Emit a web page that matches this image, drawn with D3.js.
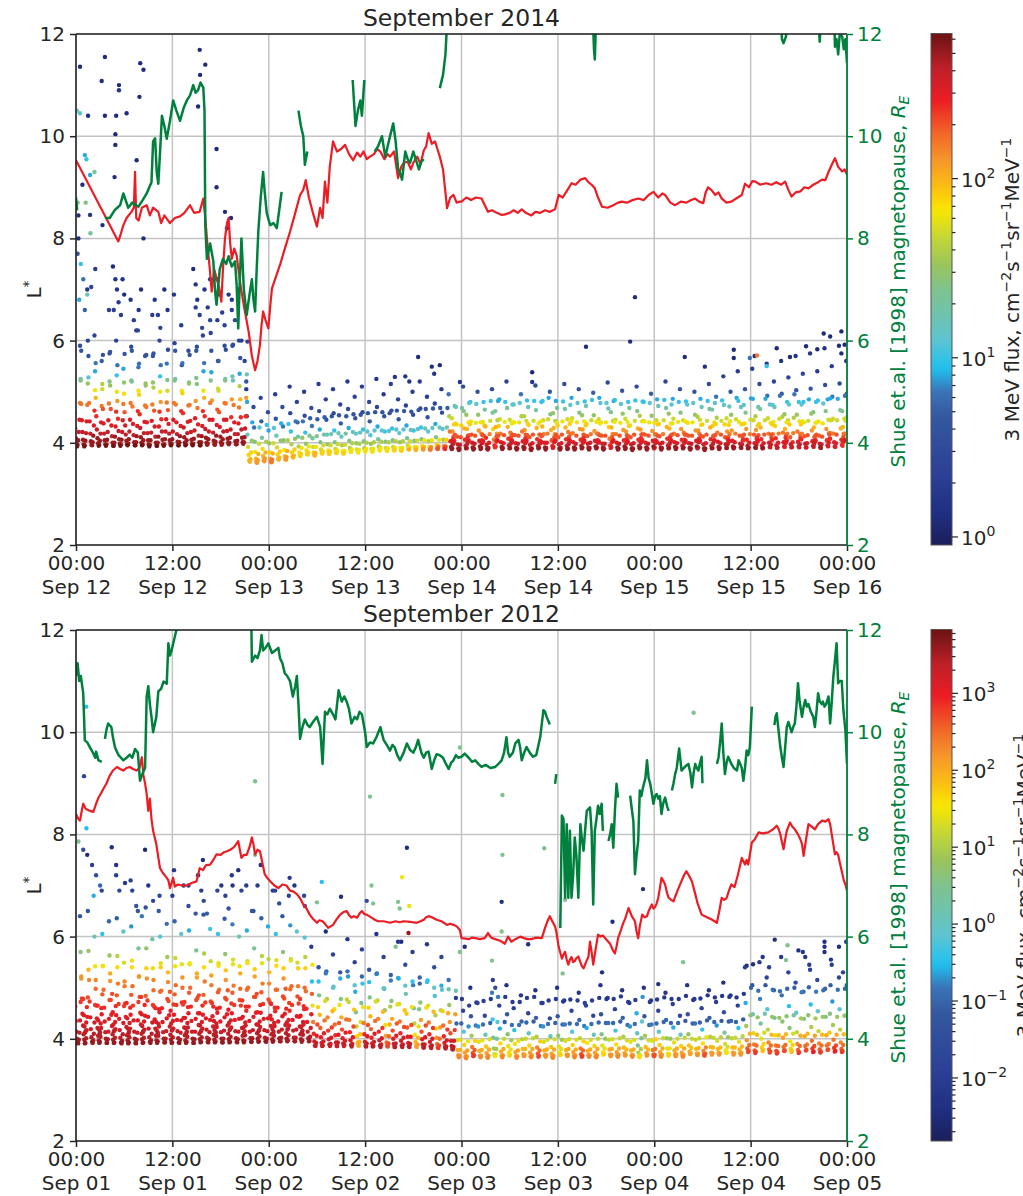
<!DOCTYPE html>
<html>
<head>
<meta charset="utf-8">
<script src="https://cdn.jsdelivr.net/npm/d3@7"></script>
<style>
  body { margin: 0; background: #fff; }
  text { font-family: "DejaVu Sans", sans-serif; }
</style>
</head>
<body>
<svg id="chart" width="1023" height="1196"></svg>
<script>
// ---------------------------------------------------------------------------
// Data
// Each pass: [start hour, L* samples x100, log10 flux samples x10], samples every SAMPLE_STEP hours.
// Spots: [hour, L* x100, log10 flux x10].  Lines: [hour, value] pairs, null = data gap.
// ---------------------------------------------------------------------------
const SAMPLE_STEP = 0.075;
const timeTicksHours = [0, 12, 24, 36, 48, 60, 72, 84, 96];
const lstarTicks = [2, 4, 6, 8, 10, 12];

const passes2014 = [
  [-0.4,[640,560,500,458,428,409,398,393,396,405,421,445,478,522,580],[3,6,18,24,26,27,27,28,27,27,26,25,22,14,6]],
  [0.5,[590,525,476,444,421,406,397,393,395,404,419,442,474,516,570],[5,12,22,25,26,27,27,28,27,27,26,25,22,15,6]],
  [1.4,[700,600,528,478,442,418,403,396,395,401,414,434,463,503,556],[2,4,11,22,25,26,27,27,27,27,27,25,24,18,8]],
  [2.3,[610,540,488,452,426,409,399,394,396,404,418,440,472,515,572],[4,9,20,24,26,27,27,28,27,27,26,25,22,16,6]],
  [3.2,[560,505,466,438,418,405,397,394,397,406,421,444,477,520,578],[7,17,23,25,26,27,27,28,27,27,26,25,22,14,6]],
  [4.1,[660,575,512,466,434,413,400,394,394,400,412,432,461,500,552],[3,6,15,23,25,26,27,28,28,27,27,25,24,18,8]],
  [5.0,[600,532,482,447,423,407,398,394,397,406,421,444,476,518,574],[4,10,21,24,26,27,27,28,27,27,26,25,22,15,6]],
  [5.9,[545,496,460,434,416,404,397,395,398,407,422,445,478,522,580],[9,18,23,25,26,27,27,28,27,27,26,25,22,14,6]],
  [6.8,[680,588,520,471,437,415,401,395,395,401,413,433,462,502,555],[2,5,13,22,25,26,27,28,28,27,27,25,24,18,8]],
  [7.7,[620,548,494,456,429,411,400,395,397,405,419,441,473,516,572],[4,8,19,24,26,27,27,28,27,27,26,25,22,15,6]],
  [8.6,[570,512,470,440,419,405,397,393,396,405,420,443,475,518,575],[6,15,22,25,26,27,27,28,27,27,26,25,22,15,6]],
  [9.5,[650,570,508,463,432,412,400,394,394,400,412,432,461,500,552],[3,6,16,23,25,26,27,28,28,27,27,25,24,18,8]],
  [10.4,[600,530,480,446,422,406,397,394,397,407,422,446,479,523,582],[4,10,21,24,26,27,27,28,27,27,26,25,22,14,5]],
  [11.3,[555,502,464,437,418,405,398,395,398,407,422,445,478,522,580],[8,17,23,25,26,27,27,28,27,27,26,25,22,14,6]],
  [12.2,[690,595,525,475,440,417,402,395,395,401,413,433,462,502,556],[2,4,12,22,25,26,27,28,28,27,27,25,24,18,8]],
  [13.1,[630,552,497,458,430,411,400,395,397,405,419,441,473,516,572],[3,7,19,24,26,27,27,28,27,27,26,25,22,15,6]],
  [14.0,[580,518,474,443,421,406,398,395,398,408,424,448,482,527,588],[5,13,22,25,26,27,27,28,27,27,26,25,21,14,5]],
  [14.9,[665,580,515,468,436,414,401,395,395,401,413,433,462,502,556],[3,6,14,22,25,26,27,28,28,27,27,25,24,18,8]],
  [15.8,[610,540,488,452,427,410,400,396,398,407,422,445,478,522,580],[4,9,20,24,26,27,27,27,27,27,26,25,22,14,6]],
  [16.7,[720,615,538,483,445,420,404,397,396,402,414,435,465,506,560],[2,4,9,21,25,26,27,27,27,27,27,25,23,17,7]],
  [17.6,[640,560,502,460,431,412,401,396,398,407,422,445,478,522,582],[3,6,17,23,25,27,27,27,27,27,26,25,22,14,5]],
  [18.5,[590,525,477,445,423,408,400,397,400,410,426,450,485,530,592],[5,12,22,25,26,27,27,27,27,27,26,24,21,12,5]],
  [19.4,[680,590,522,474,440,417,403,397,397,404,417,438,469,511,566],[2,5,12,22,25,26,27,27,27,27,26,25,22,16,6]],
  [20.3,[600,535,485,450,426,410,401,398,401,411,428,452,488,534,598],[4,9,20,24,26,27,27,27,27,27,26,24,21,12,4]],
  [21.2,[505,452,416,392,376,366,363,368,381,404,440],[3,6,12,17,19,20,20,20,19,15,9]],
  [22.1,[470,430,402,382,369,362,361,366,378,398,430],[5,8,14,18,20,21,21,21,20,17,11]],
  [23.0,[488,442,410,388,374,366,364,369,381,402,435],[4,7,13,18,20,21,21,21,20,16,10]],
  [23.9,[460,424,399,381,369,363,362,367,379,399,429],[5,9,15,19,21,22,22,22,20,17,11]],
  [24.8,[495,447,414,391,377,369,367,371,383,404,438],[3,6,12,17,19,20,20,20,19,15,9]],
  [25.7,[470,432,405,386,374,368,367,372,384,405,437],[5,8,14,18,20,21,21,21,20,16,10]],
  [26.6,[510,458,422,397,381,373,371,375,387,408,442],[3,5,10,16,19,20,20,20,19,15,8]],
  [27.5,[480,440,412,393,381,375,374,378,390,410,442],[4,7,12,16,18,19,19,19,18,15,8]],
  [28.4,[500,453,420,398,385,378,377,381,393,414,448],[3,5,10,15,18,19,19,19,18,14,7]],
  [29.3,[468,433,409,392,381,376,375,380,392,413,446],[5,8,13,17,19,20,20,20,18,14,7]],
  [30.2,[515,462,426,401,387,380,379,383,395,416,450],[3,5,9,14,17,19,19,19,17,13,7]],
  [31.1,[485,445,416,397,385,379,378,383,395,417,452],[4,6,11,15,18,19,19,19,17,13,6]],
  [32.0,[505,458,424,401,388,381,380,385,397,419,454],[3,5,10,14,17,18,19,18,17,12,6]],
  [32.9,[475,438,412,395,384,379,379,384,396,418,452],[4,7,12,16,18,19,19,18,17,13,6]],
  [33.8,[520,466,429,404,390,383,382,387,399,421,456],[3,5,9,14,16,18,18,18,16,12,6]],
  [34.7,[490,448,418,399,387,382,381,386,398,420,455],[4,6,11,15,17,18,18,18,16,12,6]],
  [35.6,[510,460,426,403,390,384,383,388,400,422,458],[3,5,10,14,16,18,18,18,16,12,6]],
  [36.5,[480,442,415,398,388,383,383,388,401,424,460],[4,7,11,15,17,18,18,18,16,11,6]],
  [37.4,[525,470,432,407,393,386,385,390,402,424,460],[2,4,9,13,16,18,18,18,16,11,6]],
  [38.3,[495,452,422,402,390,385,384,389,401,423,458],[3,6,10,14,17,18,18,18,16,11,6]],
  [39.2,[515,463,428,405,392,386,385,390,403,426,463],[3,5,10,14,17,19,19,18,16,11,6]],
  [40.1,[485,446,419,401,390,385,385,390,403,426,462],[4,6,11,15,18,19,19,18,16,11,6]],
  [41.0,[530,473,434,409,395,388,387,391,403,425,461],[2,4,9,13,17,19,20,19,17,12,6]],
  [41.9,[500,455,424,404,392,387,386,391,404,427,464],[3,5,10,14,18,20,20,19,17,11,6]],
  [42.8,[520,467,430,407,394,388,387,392,405,428,466],[3,5,10,14,18,21,21,20,18,12,6]],
  [43.7,[490,450,422,403,392,387,387,392,405,429,467],[3,6,11,16,19,22,22,21,18,12,6]],
  [44.6,[535,477,437,411,396,389,388,393,406,430,468],[2,4,9,14,19,23,23,22,18,12,6]],
  [45.5,[505,459,427,406,394,389,388,393,406,430,468],[3,5,11,16,21,24,24,23,19,13,7]],
  [46.4,[495,452,422,403,392,388,389,397,412,436,472],[8,16,22,25,27,27,27,26,23,19,12]],
  [47.3,[470,436,412,397,389,386,388,396,411,434,468],[12,19,23,26,27,27,27,26,23,19,13]],
  [48.2,[510,462,428,406,394,389,390,398,414,440,478],[5,14,20,24,26,27,27,26,23,18,11]],
  [49.1,[480,442,416,400,391,387,389,398,414,439,476],[10,18,23,25,27,27,27,26,23,18,11]],
  [50.0,[500,455,424,404,393,388,390,399,415,441,480],[6,15,21,25,27,27,27,25,23,18,10]],
  [50.9,[465,432,410,396,389,387,390,400,417,443,482],[13,20,24,26,27,27,27,25,22,17,10]],
  [51.8,[505,459,427,406,395,391,393,402,418,444,482],[5,13,19,22,24,24,24,23,21,16,9]],
  [52.7,[485,446,418,401,392,388,390,399,415,441,480],[9,17,22,25,27,27,27,25,23,18,10]],
  [53.6,[520,468,431,408,395,389,390,398,413,438,475],[4,13,20,24,26,27,27,26,23,18,11]],
  [54.5,[475,440,415,399,390,387,389,398,414,440,478],[11,18,23,25,27,27,27,26,23,18,11]],
  [55.4,[495,452,422,403,392,388,390,399,416,443,483],[8,16,22,25,27,27,27,25,23,17,10]],
  [56.3,[470,435,411,396,388,386,389,399,416,443,482],[12,19,23,26,27,27,27,25,23,17,10]],
  [57.2,[512,464,429,407,394,389,391,400,416,442,480],[5,13,20,24,26,27,27,25,23,18,10]],
  [58.1,[482,444,417,400,391,387,390,400,418,446,488],[10,17,22,25,27,27,27,25,22,17,9]],
  [59.0,[500,456,425,405,394,390,392,401,417,443,482],[6,14,20,23,24,25,25,24,21,16,9]],
  [59.9,[468,434,411,397,389,387,390,399,416,442,481],[13,19,23,26,27,27,27,25,23,18,10]],
  [60.8,[515,466,430,407,394,388,389,397,412,437,474],[5,13,20,24,26,27,27,26,23,19,11]],
  [61.7,[488,448,419,401,391,387,389,398,414,440,478],[9,17,22,25,27,27,27,26,23,18,11]],
  [62.6,[505,459,427,406,394,389,391,400,416,442,481],[6,14,21,24,26,27,27,25,23,18,10]],
  [63.5,[472,437,413,398,390,387,390,400,417,444,484],[12,19,23,26,27,27,27,25,22,17,10]],
  [64.4,[498,454,423,404,393,389,391,401,418,446,488],[7,15,21,25,27,27,27,25,22,17,9]],
  [65.3,[478,440,414,398,390,387,389,398,414,440,478],[11,18,23,26,27,27,27,26,23,18,11]],
  [66.2,[518,467,431,408,395,390,392,401,417,443,482],[5,12,19,22,24,25,25,24,21,16,9]],
  [67.1,[484,445,417,400,391,387,389,398,414,439,476],[10,17,22,25,27,27,27,26,23,18,11]],
  [68.0,[502,457,425,405,393,388,390,399,415,441,480],[6,15,21,24,27,27,27,25,23,18,10]],
  [68.9,[468,434,411,397,389,386,389,399,416,443,483],[13,19,23,26,27,27,27,25,23,17,10]],
  [69.8,[510,462,428,406,394,389,391,400,416,442,481],[5,14,20,24,26,27,27,25,23,18,10]],
  [70.7,[480,442,416,400,391,387,389,398,414,440,478],[10,18,23,25,27,27,27,26,23,18,11]],
  [71.6,[496,453,423,404,393,389,391,400,417,444,485],[7,15,21,25,27,26,26,25,22,17,9]],
  [72.5,[472,437,413,398,390,387,390,400,417,444,484],[12,19,23,26,27,27,27,25,22,17,10]],
  [73.4,[520,468,431,408,395,389,390,398,413,438,475],[4,13,20,24,26,27,27,26,23,18,11]],
  [74.3,[486,447,418,401,392,388,390,399,415,441,480],[9,17,22,25,27,27,27,25,23,18,10]],
  [75.2,[505,459,427,406,394,389,391,400,416,442,481],[6,14,21,24,26,27,27,25,23,18,10]],
  [76.1,[475,439,414,399,390,387,389,398,414,440,478],[11,18,23,25,27,27,27,26,23,18,11]],
  [77.0,[500,455,424,404,393,389,391,401,418,445,486],[6,15,21,25,27,26,26,25,22,17,9]],
  [77.9,[470,436,412,397,389,386,389,399,416,443,482],[12,19,23,26,27,27,27,25,23,17,10]],
  [78.8,[515,466,430,407,394,389,390,398,414,440,478],[5,13,20,24,26,27,27,26,23,18,11]],
  [79.7,[490,449,420,402,392,388,390,399,416,443,483],[8,16,22,25,27,27,27,25,23,17,10]],
  [80.6,[530,474,436,411,397,390,390,397,411,435,471],[4,11,19,23,26,27,27,26,23,19,12]],
  [81.5,[500,455,424,404,393,389,391,401,418,446,488],[6,15,21,25,27,27,27,25,22,17,9]],
  [82.4,[540,482,441,414,398,391,390,397,412,437,474],[3,10,18,23,26,27,27,26,23,19,11]],
  [83.3,[505,459,427,406,394,389,391,400,417,445,487],[6,14,21,24,26,27,27,25,22,17,9]],
  [84.2,[545,486,444,416,399,391,390,396,410,434,470],[3,9,17,23,25,27,27,26,24,19,12]],
  [85.1,[515,466,430,407,394,389,390,399,416,444,486],[5,13,20,24,26,27,27,25,23,17,9]],
  [86.0,[555,492,448,418,400,392,391,397,411,436,474],[3,8,17,22,25,26,26,26,23,19,11]],
  [86.9,[520,470,433,409,395,390,391,400,418,447,492],[4,12,19,24,25,26,26,25,22,17,8]],
  [87.8,[560,496,451,420,401,393,392,399,414,440,480],[2,7,16,22,25,25,25,25,23,18,10]],
  [88.7,[528,475,436,411,397,391,392,401,419,449,495],[4,11,19,23,26,26,26,24,22,16,8]],
  [89.6,[570,503,455,422,402,393,391,397,411,436,475],[2,6,15,22,25,26,26,26,23,19,11]],
  [90.5,[535,480,440,413,398,391,391,399,415,443,485],[4,10,18,23,26,26,26,25,23,17,9]],
  [91.4,[575,506,457,424,403,394,392,398,413,439,480],[2,6,15,21,25,26,26,26,23,18,10]],
  [92.3,[540,483,442,414,398,391,390,397,412,438,477],[3,10,18,23,26,27,27,26,23,18,11]],
  [93.2,[585,513,462,427,405,395,393,400,416,444,487],[2,5,14,21,24,25,25,25,23,17,9]],
  [94.1,[550,490,447,418,401,393,392,399,416,444,486],[3,8,17,22,25,25,25,25,23,17,9]],
  [95.0,[590,516,464,428,406,396,394,401,418,447,492],[1,5,13,20,24,24,24,24,22,17,8]],
  [95.9,[560,496,451,420,402,394,393,400,417,445,488],[2,7,16,22,25,25,25,25,22,17,9]],
  [46.8,[448,422,407,401,404,416,438],[17,21,24,25,24,23,18]],
  [48.6,[455,427,410,403,405,415,436],[15,20,24,25,24,23,19]],
  [50.4,[440,418,405,400,403,414,434],[18,22,24,25,25,23,19]],
  [52.2,[462,431,412,404,405,414,433],[14,20,23,25,24,23,19]],
  [54.0,[445,420,406,401,404,416,440],[17,22,24,25,25,23,18]],
  [55.8,[452,425,409,402,404,415,437],[16,21,24,25,25,23,19]],
  [57.6,[438,416,404,399,402,413,432],[18,22,24,25,25,23,20]],
  [59.4,[458,429,411,403,405,416,439],[15,20,23,25,24,23,18]],
  [61.2,[446,421,407,401,404,417,442],[17,22,24,25,25,22,18]],
  [63.0,[454,426,409,402,404,414,434],[15,21,24,25,25,23,19]],
  [64.8,[441,418,405,400,403,415,438],[18,22,24,25,25,23,18]],
  [66.6,[460,430,411,403,405,417,441],[14,20,23,25,24,22,18]],
  [68.4,[447,422,407,401,403,413,433],[17,21,24,25,25,23,19]],
  [70.2,[453,426,409,402,405,418,443],[16,21,24,25,24,22,17]],
  [72.0,[439,417,405,400,403,414,436],[18,22,24,25,25,23,19]],
  [73.8,[457,428,410,403,405,416,438],[15,20,24,25,24,23,18]],
  [75.6,[444,420,406,401,404,416,440],[17,22,24,25,25,23,18]],
  [77.4,[451,424,408,402,404,414,435],[16,21,24,25,25,23,19]],
  [79.2,[465,433,413,404,405,415,437],[13,19,23,25,24,23,19]],
  [81.0,[448,422,407,401,404,417,442],[17,21,24,25,25,22,18]],
  [82.8,[470,436,414,405,406,416,438],[12,19,23,24,24,23,18]],
  [84.6,[452,425,408,402,404,415,437],[16,21,24,25,25,23,19]],
  [86.4,[475,439,416,406,406,417,441],[11,18,23,24,24,22,18]],
  [88.2,[456,427,410,402,405,418,444],[15,20,24,25,24,22,17]],
  [90.0,[480,442,417,407,407,418,442],[10,18,22,24,24,22,18]],
  [91.8,[460,430,411,403,405,416,440],[14,20,23,25,24,23,18]],
  [93.6,[485,445,419,408,408,419,444],[9,17,22,24,24,22,17]],
  [95.4,[462,431,412,404,406,418,443],[14,20,23,25,24,22,17]]
];

const spots2014 = [
  [0.1,1050,12],[0.5,1045,11],[1.5,1040,1],[0.5,1136,1],[3.6,1155,1],[8.0,1143,1],[8.4,1130,1],[3.2,1108,1],
  [5.35,1100,1],[5.35,1090,2],[7.9,1077,1],[15.4,1169,1],[16.1,1140,1],[15.45,1120,1],[3.6,1040,1],[5.0,1040,1],
  [6.3,1045,1],[15.2,1058,1],[4.9,1004,1],[4.9,983,1],[1.1,963,9],[1.3,955,10],[1.75,924,9],[2.3,930,13],
  [7.55,953,1],[17.5,975,1],[4.8,920,1],[0.8,905,1],[17.5,900,1],[0.2,870,14],[1.2,870,14],[1.75,846,2],
  [0.3,845,1],[3.3,826,1],[0.3,800,1],[1.8,810,13],[8.4,800,1],[18.55,852,1],[19.3,840,1],[18.8,820,1],
  [0.2,770,6],[0.6,750,10],[0.9,720,8],[1.4,690,12],[1.9,705,4],[2.4,740,3],[0.4,680,9],[1.1,660,7],
  [4.6,745,1],[4.9,720,2],[5.1,700,2],[5.3,675,3],[5.6,650,3],[6.0,690,1],[4.7,660,3],[5.8,720,2],
  [7.2,640,3],[7.5,620,4],[7.8,660,2],[8.1,700,1],[9.8,680,2],[10.2,650,3],[10.5,625,4],[11.0,700,1],
  [11.4,660,2],[14.6,740,1],[14.9,710,2],[15.1,680,2],[15.4,650,3],[15.7,625,4],[16.0,700,2],[16.4,665,3],
  [16.7,640,4],[17.6,720,1],[17.9,690,2],[18.2,655,3],[18.5,630,4],[19.0,690,2],[19.4,660,3],[19.8,640,4],
  [20.3,700,2],[20.6,600,3],[21.0,560,4],[21.2,520,6],[21.3,480,9],
  [42.6,568,1],[44.3,549,1],[45.3,552,1],[39.7,529,2],[41.5,520,2],[47.8,519,2],[56.8,538,1],[56.8,519,2],
  [63.5,588,1],[69.0,598,1],[69.6,685,1],[75.8,568,1],[78.3,549,1],[81.9,582,1],[81.9,566,1],[87.25,585,1],
  [88.9,568,1],[90.9,589,1],[92.3,583,1],[93.1,614,1],[93.9,608,1],[95.3,618,1],[95.3,575,1],[95.7,592,1],
  [84.5,570,1],[84.8,571,22],[83.9,566,8],[86.0,550,10]
];

const passes2012 = [
  [-0.4,[700,612,548,500,463,435,414,400,392,391,398,412,436,472,522],[-20,-6,15,25,29,31,33,35,36,36,35,33,31,28,22]],
  [0.5,[640,570,518,479,449,426,409,398,391,392,401,417,443,481,535],[-12,6,22,27,30,32,34,35,36,36,34,33,31,27,19]],
  [1.4,[760,650,572,515,473,442,419,403,394,392,397,410,432,466,515],[-25,-13,8,23,28,31,33,34,36,36,35,34,32,28,23]],
  [2.3,[600,542,498,465,440,421,406,397,392,394,404,421,448,487,542],[1,15,25,28,31,33,34,35,36,36,34,33,30,26,15]],
  [3.2,[690,605,543,496,461,434,413,400,392,392,399,414,439,476,528],[-18,-4,16,25,29,31,33,35,36,36,35,33,31,27,20]],
  [4.1,[630,563,513,476,447,425,409,398,392,393,402,419,446,485,540],[-10,8,22,27,30,32,34,35,36,36,34,33,30,26,16]],
  [5.0,[740,636,562,508,468,439,417,402,393,391,396,409,431,464,512],[-23,-11,11,24,28,31,33,34,36,36,35,34,32,28,23]],
  [5.9,[610,549,503,469,443,423,407,397,391,393,403,420,447,486,540],[-1,13,24,28,30,32,34,35,36,36,34,33,30,26,16]],
  [6.8,[710,620,553,503,465,436,414,400,392,391,398,412,436,472,522],[-20,-7,14,25,28,31,33,35,36,36,35,33,31,28,22]],
  [7.7,[650,577,522,482,451,428,410,399,392,393,402,418,445,484,538],[-13,4,21,26,29,32,34,35,36,36,34,33,30,26,17]],
  [8.6,[770,657,577,518,475,443,420,403,394,392,397,410,432,466,515],[-26,-14,7,22,28,31,33,34,36,36,35,34,32,28,23]],
  [9.5,[595,538,495,463,438,420,406,397,392,395,406,424,452,492,548],[2,16,25,28,31,33,34,35,36,36,34,32,30,25,14]],
  [10.4,[680,600,540,494,460,433,413,400,393,393,400,415,440,478,530],[-17,-2,17,25,29,31,33,35,36,36,35,33,31,27,19]],
  [11.3,[625,560,511,474,446,424,408,398,392,393,403,420,447,487,542],[-9,9,23,27,30,32,34,35,36,36,34,33,30,26,15]],
  [12.2,[730,630,558,505,466,437,415,401,393,392,398,412,436,471,520],[-22,-10,12,25,28,31,33,35,36,36,35,33,31,28,22]],
  [13.1,[605,546,500,467,441,422,407,397,392,394,404,422,450,490,546],[0,14,25,28,31,32,34,35,36,36,34,33,30,26,14]],
  [14.0,[700,612,548,500,463,435,414,400,392,392,399,414,439,476,528],[-20,-6,15,25,29,31,33,35,36,36,35,33,31,27,20]],
  [14.9,[645,573,520,480,450,427,410,399,393,394,403,420,447,486,540],[-12,5,21,27,30,32,34,35,36,36,34,33,30,26,16]],
  [15.8,[750,643,567,512,471,440,418,402,394,393,399,413,437,473,524],[-24,-12,10,24,28,31,33,34,36,36,35,33,31,27,21]],
  [16.7,[615,552,505,470,444,424,408,398,393,395,405,423,451,491,548],[-3,12,24,28,30,32,34,35,36,35,34,33,30,26,14]],
  [17.6,[690,605,543,496,461,434,413,400,393,393,400,416,442,480,534],[-18,-4,16,25,29,31,33,35,36,36,35,33,31,27,18]],
  [18.5,[635,566,515,477,448,426,410,399,393,394,404,422,450,490,546],[-11,7,22,27,30,32,34,35,36,36,34,33,30,26,14]],
  [19.4,[720,624,555,504,466,437,415,401,394,393,399,414,439,476,528],[-21,-8,13,24,28,31,33,35,36,36,35,33,31,27,20]],
  [20.3,[600,542,498,465,440,421,406,397,393,396,407,426,455,496,552],[1,15,25,28,31,33,34,35,36,35,34,32,29,25,13]],
  [21.2,[700,612,548,500,463,435,414,401,394,394,401,417,443,482,536],[-20,-6,15,25,29,31,33,35,36,36,35,33,31,27,17]],
  [22.1,[650,577,522,482,451,428,411,400,394,395,405,423,451,491,548],[-13,4,21,26,29,32,34,35,36,35,34,33,30,26,14]],
  [23.0,[740,636,562,508,468,439,417,402,395,394,400,415,440,477,530],[-23,-11,11,24,28,31,33,34,35,36,35,33,31,27,19]],
  [23.9,[620,556,508,472,445,425,409,399,394,396,406,425,454,496,554],[-6,11,23,27,30,32,34,35,36,35,34,32,29,25,13]],
  [24.8,[690,605,543,496,461,434,414,401,395,395,402,418,444,483,538],[-18,-4,16,25,29,31,33,35,35,35,34,33,31,27,17]],
  [25.7,[640,570,518,479,449,427,411,400,395,397,407,426,455,497,556],[-12,6,22,27,30,32,34,35,35,35,34,32,29,25,12]],
  [26.6,[715,622,553,503,466,437,416,402,395,395,402,418,444,483,538],[-21,-7,14,25,28,31,33,34,35,35,34,33,31,27,17]],
  [27.5,[610,549,503,469,443,424,409,399,394,397,408,428,458,500,560],[-1,13,24,28,30,32,34,35,35,35,34,32,29,25,11]],
  [28.4,[680,598,538,493,459,433,414,401,395,396,404,421,448,488,545],[-17,-2,17,25,29,31,33,35,35,35,34,33,30,26,15]],
  [0.9,[478,446,424,412,415,432,462],[28,31,33,34,33,32,29]],
  [2.7,[465,436,418,409,413,430,460],[29,32,33,34,34,32,29]],
  [4.5,[488,452,428,415,417,433,464],[27,30,32,33,33,31,29]],
  [6.3,[470,440,420,410,414,431,461],[29,31,33,34,33,32,29]],
  [8.1,[482,448,425,413,416,434,466],[28,31,33,34,33,31,29]],
  [9.9,[460,433,416,408,412,429,458],[29,32,33,34,34,32,30]],
  [11.7,[492,455,430,416,418,435,467],[26,30,32,33,33,31,28]],
  [13.5,[472,441,421,411,414,431,462],[28,31,33,34,33,32,29]],
  [15.3,[485,450,426,414,416,433,465],[27,31,33,33,33,31,29]],
  [17.1,[463,435,417,409,413,430,459],[29,32,33,34,34,32,30]],
  [18.9,[495,457,431,417,419,436,469],[26,30,32,33,33,31,28]],
  [20.7,[475,443,422,412,415,432,463],[28,31,33,34,33,32,29]],
  [22.5,[488,452,428,415,417,434,466],[27,30,32,33,33,31,29]],
  [24.3,[468,438,419,410,414,431,461],[29,31,33,34,33,32,29]],
  [26.1,[498,459,432,418,420,437,470],[26,29,32,33,33,31,28]],
  [27.9,[478,445,423,413,416,433,464],[28,31,33,34,33,31,29]],
  [29.3,[580,512,465,433,410,395,387,386,392,406,428,462,512],[-20,-5,14,24,29,32,33,33,33,31,27,17,-5]],
  [30.2,[540,485,447,421,403,392,386,387,395,411,436,474,528],[-13,4,19,26,30,32,33,33,32,30,25,13,-8]],
  [31.1,[610,532,478,442,416,399,389,386,390,402,422,454,500],[-24,-10,10,23,28,31,33,33,33,32,28,19,0]],
  [32.0,[565,502,458,428,407,393,386,386,393,408,431,466,518],[-18,-2,16,25,29,32,33,33,33,31,26,16,-6]],
  [32.9,[530,478,442,418,401,391,386,388,396,412,438,477,532],[-12,6,20,27,30,32,33,33,32,30,25,12,-9]],
  [33.8,[595,522,472,437,413,397,388,385,390,403,424,457,505],[-22,-7,12,24,29,32,33,34,33,31,27,18,-2]],
  [34.7,[550,492,452,424,405,393,387,387,394,409,433,470,522],[-18,-6,4,11,16,19,20,20,20,18,13,4,-10]],
  [35.6,[575,508,462,431,409,394,386,385,391,405,427,461,511],[-19,-4,15,24,29,32,33,34,33,31,27,17,-5]],
  [36.5,[535,481,444,419,402,391,385,386,394,410,435,473,527],[-13,5,19,26,30,32,33,34,33,31,25,13,-8]],
  [37.4,[605,528,475,439,414,397,387,384,389,401,421,453,499],[-23,-9,11,23,29,32,33,34,33,32,28,19,0]],
  [38.3,[560,498,456,427,406,393,386,385,391,405,428,463,514],[-18,-6,8,16,21,25,27,27,27,25,20,10,-8]],
  [39.2,[525,474,439,416,400,390,384,384,391,406,430,467,519],[-11,6,20,27,30,32,33,34,33,31,26,14,-6]],
  [40.1,[590,518,468,434,411,396,387,384,389,402,423,456,504],[-21,-6,13,24,29,32,33,34,33,32,27,18,-1]],
  [41.0,[545,488,449,422,404,392,385,384,390,404,427,462,512],[-15,2,18,26,30,32,33,34,33,31,27,16,-4]],
  [41.9,[570,505,460,430,408,394,386,384,389,402,424,458,508],[-20,-8,3,11,16,19,21,21,21,19,14,5,-10]],
  [42.8,[520,471,437,414,399,389,383,383,389,403,426,461,511],[-10,7,21,27,30,32,33,34,33,31,27,16,-4]],
  [43.7,[585,514,465,432,409,394,385,382,387,400,421,453,500],[-21,-5,13,24,29,32,33,34,34,32,28,19,0]],
  [44.6,[540,484,446,420,402,390,383,382,387,400,422,456,504],[-15,-3,10,17,22,25,27,28,27,25,21,11,-6]],
  [45.5,[560,496,454,426,405,392,384,381,385,397,418,450,497],[-18,-1,17,25,29,32,33,34,34,32,28,20,1]],
  [46.4,[515,466,433,411,396,386,380,379,384,396,417,448,494],[-9,8,22,27,31,33,34,34,34,32,28,21,2]],
  [47.3,[480,430,397,378,368,364,367,378,398,430,478],[-21,-10,13,20,22,23,22,20,13,-10,-21]],
  [48.2,[455,414,388,373,365,362,366,377,395,424,465],[-18,-2,17,21,22,23,22,21,15,-7,-19]],
  [49.1,[500,444,406,384,372,366,368,378,396,426,471],[-23,-12,9,24,27,28,28,26,17,-8,-21]],
  [50.0,[470,424,394,376,367,364,367,378,397,428,474],[-20,-7,14,20,22,23,22,20,14,-9,-20]],
  [50.9,[445,408,385,372,365,363,367,379,399,431,478],[-17,0,18,21,22,23,22,20,13,-10,-21]],
  [51.8,[490,438,402,381,370,366,369,380,400,433,482],[-8,-3,4,9,13,15,13,9,4,-2,-8]],
  [52.7,[465,420,391,375,367,364,368,380,400,433,482],[-19,-6,16,20,22,23,22,20,12,-11,-21]],
  [53.6,[505,448,409,386,373,367,369,379,397,427,472],[-23,-13,6,14,16,17,16,14,9,-9,-21]],
  [54.5,[460,417,390,374,366,363,366,377,396,427,472],[-19,-5,16,21,22,23,22,21,14,-9,-20]],
  [55.4,[485,434,399,380,370,366,369,380,400,432,480],[-22,-10,11,19,21,22,21,19,12,-10,-21]],
  [56.3,[450,411,387,373,366,364,368,380,401,434,482],[-18,-1,17,21,22,23,22,20,12,-11,-21]],
  [57.2,[495,441,404,383,371,365,367,377,395,425,470],[-23,-11,10,23,26,27,27,25,17,-8,-20]],
  [58.1,[470,424,394,377,368,365,368,379,398,429,475],[-20,-7,13,20,22,22,22,20,13,-9,-20]],
  [59.0,[440,405,384,371,365,363,367,379,399,431,478],[-16,1,18,21,22,23,22,20,13,-10,-21]],
  [59.9,[500,444,406,385,373,368,370,380,398,428,473],[-23,-12,7,14,16,17,16,14,9,-9,-21]],
  [60.8,[475,428,396,378,369,366,369,380,399,430,477],[-21,-8,13,20,22,22,22,20,13,-10,-21]],
  [61.7,[455,414,388,374,367,364,368,379,398,429,475],[-18,-2,17,21,22,23,22,20,13,-9,-20]],
  [62.6,[490,437,401,381,370,365,367,377,395,425,470],[-22,-10,11,24,27,28,27,25,17,-8,-20]],
  [63.5,[465,421,392,376,368,365,368,379,398,429,475],[-19,-6,15,20,22,23,22,20,13,-9,-20]],
  [64.4,[445,408,386,373,366,364,368,380,400,432,480],[-17,0,17,21,22,23,22,20,12,-10,-21]],
  [65.3,[505,448,409,387,374,369,371,381,400,431,478],[-23,-13,5,14,16,17,16,14,8,-10,-21]],
  [66.2,[480,431,398,379,369,366,369,380,399,431,478],[-21,-9,12,20,22,22,22,20,13,-10,-21]],
  [67.1,[458,416,389,374,367,365,369,381,401,434,483],[-18,-3,16,21,22,23,22,20,12,-11,-21]],
  [68.0,[495,441,404,383,372,367,369,379,397,427,472],[-23,-11,10,19,21,22,21,19,13,-9,-21]],
  [68.9,[470,424,394,377,368,365,368,379,398,429,476],[-20,-7,14,20,22,23,22,20,13,-9,-20]],
  [69.8,[450,411,387,373,366,364,368,380,401,434,482],[-6,-1,5,10,14,16,14,10,5,-1,-7]],
  [70.7,[500,444,406,384,372,367,369,379,397,427,472],[-23,-12,9,19,21,22,21,19,13,-9,-21]],
  [71.6,[475,428,396,378,369,366,369,380,399,430,477],[-21,-8,13,24,26,27,26,24,17,-10,-21]],
  [72.5,[455,414,388,374,367,365,369,381,401,433,481],[-18,-2,17,21,22,23,22,20,12,-10,-21]],
  [73.4,[490,437,401,381,371,367,370,381,400,431,478],[-22,-10,8,14,16,17,16,14,8,-10,-21]],
  [74.3,[468,422,393,377,369,366,370,381,400,431,478],[-20,-6,14,20,22,22,21,20,12,-10,-21]],
  [75.2,[445,408,386,373,367,365,369,381,402,435,484],[-17,0,17,21,22,23,22,20,12,-11,-22]],
  [76.1,[505,448,409,387,375,370,372,382,400,430,476],[-23,-13,8,18,20,21,20,18,12,-10,-21]],
  [77.0,[478,430,398,380,371,368,371,382,401,432,479],[-21,-9,12,19,21,22,21,19,12,-10,-21]],
  [77.9,[460,418,391,376,369,367,371,383,403,436,485],[-19,-4,16,23,26,27,26,23,15,-11,-22]],
  [78.8,[495,441,404,384,373,369,372,383,402,433,481],[-23,-11,10,19,21,22,21,19,12,-10,-21]],
  [79.7,[472,426,396,380,372,369,372,383,403,435,484],[-20,-7,13,19,21,22,21,19,11,-11,-22]],
  [80.6,[510,452,412,390,377,372,374,384,403,434,482],[-24,-14,5,13,15,16,15,13,8,-11,-21]],
  [81.5,[485,435,401,383,373,369,372,383,402,433,481],[-22,-10,11,19,21,22,21,19,12,-10,-21]],
  [82.4,[465,421,394,379,372,369,373,385,405,438,488],[-19,-5,14,19,21,22,21,19,11,-11,-22]],
  [83.3,[540,470,425,397,381,374,376,388,410,446,500],[-20,-6,9,22,26,27,27,25,19,7,-10]],
  [84.2,[505,448,411,389,377,372,375,387,408,442,494],[-13,1,13,24,26,28,27,25,19,8,-9]],
  [85.1,[550,478,430,400,383,376,378,390,412,449,505],[-21,-8,4,14,17,18,18,17,13,2,-12]],
  [86.0,[520,458,418,393,379,373,375,387,408,443,496],[-17,-2,11,23,26,27,27,25,19,8,-9]],
  [86.9,[495,441,407,387,376,371,374,386,407,441,493],[-11,3,14,24,27,28,27,25,19,8,-9]],
  [87.8,[560,485,434,402,384,376,377,388,409,444,498],[-22,-9,7,21,25,27,27,25,19,7,-10]],
  [88.7,[530,464,421,395,380,374,376,388,410,446,500],[-19,-5,6,15,17,18,18,17,13,3,-11]],
  [89.6,[510,451,413,390,378,372,374,386,406,440,491],[-15,0,12,23,26,28,27,25,20,9,-8]],
  [90.5,[570,492,439,405,386,377,378,389,410,446,501],[-22,-10,6,20,25,27,27,24,19,7,-10]],
  [91.4,[535,467,423,396,381,374,375,386,406,440,492],[-19,-5,10,25,28,30,29,27,21,9,-8]],
  [92.3,[515,454,415,391,379,373,375,387,408,443,495],[-16,-1,12,23,26,28,27,25,19,8,-9]],
  [93.2,[580,498,443,407,387,378,379,390,412,449,505],[-22,-11,5,20,25,27,27,24,18,6,-11]],
  [94.1,[545,473,427,398,382,375,376,387,408,443,496],[-20,-7,9,24,28,30,29,27,20,8,-9]],
  [95.0,[520,458,418,393,380,374,376,388,409,445,498],[-17,-2,11,23,26,28,27,25,19,7,-10]],
  [95.9,[590,505,447,410,389,379,380,391,413,450,507],[-22,-12,4,19,25,27,27,24,18,6,-11]]
];

const spots2012 = [
  [1.25,1050,-5],[1.0,914,-18],[1.3,812,-5],[0.3,786,5],[0.9,770,-15],[4.45,775,-24],[2.0,740,-20],[2.5,720,-14],
  [3.0,700,-10],[2.2,680,-6],[5.0,720,-20],[5.4,690,-16],[6.1,705,-22],[7.0,690,-18],[7.5,660,-12],[8.2,640,-8],
  [9.0,700,-22],[9.6,670,-17],[10.3,650,-12],[12.0,680,-20],[13.4,700,-22],[14.0,660,-15],[15.2,720,-23],[15.6,690,-20],
  [15.9,670,-16],[16.3,645,-11],[18.1,700,-22],[18.6,680,-19],[19.0,655,-14],[19.5,700,-22],[20.2,730,-24],[20.6,690,-19],
  [22.3,904,5],[22.3,760,5],[21.9,650,-12],[22.6,700,-20],[24.5,690,-20],[25.3,665,-15],[26.5,680,-18],[27.2,700,-22],
  [28.5,660,-14],[30.6,707,-5],[30.0,667,5],[33.0,678,-24],[36.2,670,-15],[36.8,700,5],[37.0,665,5],[36.6,874,5],
  [41.2,774,-24],[40.6,716,15],[41.5,660,15],[40.1,668,5],[40.3,655,5],[41.4,607,36],[40.5,590,-24],[39.8,580,5],
  [47.8,970,5],[76.9,1038,5],[53.1,877,5],[53.1,760,5],[58.3,773,5],[53.0,668,-24],[60.9,672,5],[70.6,693,-24],
  [66.8,629,-24],[53.0,610,5],[47.8,570,5],[48.4,580,-24],[56.3,585,-24],[87.0,594,-24],[88.6,583,5],[89.95,573,-24],
  [93.2,590,-24],[93.2,570,-24],[83.5,543,-24],[84.3,546,-24],[88.4,554,5],[51.8,553,5],[75.6,550,5],[65.5,530,-24],
  [60.6,528,5],[72.5,507,-24],[51.9,515,-20],[52.2,500,-15],[85.5,560,-22],[86.3,540,-20],[90.8,560,-22],[91.3,545,-20],
  [94.0,555,-22],[95.0,580,-24],[95.5,530,-18]
];

const redTrace2014 = [[0,9.53],[5.27,7.94],[5.6,8.1],[5.9,8.26],[6.3,8.4],[6.9,8.52],[7.2,8.6],[7.35,9.3],[7.5,8.4],[7.8,8.35],[8.2,8.6],[8.8,8.65],[9.2,8.45],[9.6,8.6],[10.25,8.52],[10.6,8.3],[11.0,8.45],[11.7,8.3],[12.3,8.4],[12.95,8.43],[13.5,8.5],[14.2,8.65],[14.7,8.5],[15.4,8.52],[15.85,8.78],[16.1,8.4],[16.3,8.0],[16.6,7.5],[16.9,6.96],[17.2,7.4],[17.5,7.22],[17.8,7.05],[18.1,6.76],[18.3,7.4],[18.55,8.0],[18.8,8.3],[19.0,8.4],[19.2,7.9],[19.4,7.6],[19.7,7.8],[20.0,7.67],[20.3,7.3],[20.6,6.96],[21.0,6.6],[21.5,6.17],[21.9,5.7],[22.3,5.42],[22.6,5.6],[22.9,5.91],[23.1,6.3],[23.3,6.57],[23.6,6.4],[23.95,6.24],[24.2,6.7],[24.4,7.02],[24.9,7.25],[25.4,7.48],[26.0,7.8],[26.65,8.13],[27.3,8.5],[27.9,8.85],[28.3,8.95],[28.6,9.14],[29.0,8.8],[29.5,8.5],[30.0,8.23],[30.4,8.6],[30.7,8.4],[31.0,9.11],[31.3,8.7],[31.6,9.4],[32.0,9.9],[32.5,9.7],[33.0,9.75],[33.5,9.83],[34.0,9.65],[34.5,9.53],[35.0,9.68],[35.4,9.6],[35.8,9.7],[36.2,9.55],[36.6,9.6],[37.1,9.65],[37.5,9.75],[37.9,9.7],[38.4,9.55],[38.8,9.65],[39.1,9.6],[39.6,9.7],[40.1,9.18],[40.5,9.4],[40.8,9.48],[41.3,9.5],[41.7,9.35],[42.0,9.48],[42.5,9.6],[42.9,9.45],[43.3,9.72],[43.6,9.8],[43.9,10.06],[44.3,9.85],[44.7,9.9],[45.0,9.75],[45.3,9.6],[45.7,9.35],[46.0,8.9],[46.2,8.59],[46.6,8.8],[47.0,8.85],[47.4,8.7],[47.8,8.72],[48.0,8.72],[48.6,8.8],[49.2,8.75],[49.8,8.8],[50.5,8.78],[50.9,8.65],[51.3,8.52],[51.8,8.55],[52.4,8.5],[53.0,8.46],[53.4,8.47],[54.0,8.5],[54.5,8.55],[55.0,8.5],[55.5,8.57],[56.0,8.5],[56.7,8.45],[57.2,8.52],[57.8,8.5],[58.4,8.55],[59.0,8.52],[59.65,8.57],[60.1,8.85],[60.6,8.8],[61.2,8.95],[61.7,9.08],[62.2,9.05],[62.8,9.15],[63.4,9.18],[63.8,9.1],[64.2,9.05],[64.6,8.98],[65.0,8.8],[65.5,8.62],[66.2,8.6],[66.9,8.65],[67.5,8.7],[67.95,8.72],[68.6,8.7],[69.3,8.75],[70.0,8.78],[70.7,8.75],[71.3,8.85],[71.9,8.91],[72.5,8.8],[73.0,8.88],[73.35,8.85],[74.0,8.7],[74.6,8.65],[75.3,8.72],[76.0,8.7],[76.6,8.75],[77.1,8.78],[77.6,8.72],[78.1,8.69],[78.4,8.9],[78.7,9.0],[79.1,8.95],[79.6,8.85],[80.0,8.9],[80.4,8.78],[81.0,8.7],[81.6,8.72],[82.2,8.78],[82.9,8.85],[83.3,9.07],[83.8,9.0],[84.2,9.12],[84.6,9.11],[85.2,9.05],[85.9,9.08],[86.6,9.05],[87.2,9.1],[87.8,9.05],[88.3,9.11],[88.7,8.95],[89.1,8.82],[89.6,8.9],[90.2,8.92],[90.7,9.0],[91.2,8.98],[91.8,9.05],[92.4,9.1],[92.9,9.15],[93.3,9.14],[93.7,9.3],[94.1,9.44],[94.5,9.57],[94.9,9.4],[95.4,9.31],[95.7,9.35],[96.0,9.25]];

const magnetopause2014 = [[0,8.8],[0.15,8.55],null,[3.6,8.4],[4.2,8.4],[4.8,8.55],[5.5,8.65],[5.9,8.88],[6.5,8.6],[7.0,8.7],[7.76,8.62],[8.3,8.75],[8.8,8.88],[9.4,9.1],[9.6,9.9],[9.85,9.96],[10.05,9.3],[10.25,9.07],[10.5,9.8],[10.7,10.4],[11.0,10.2],[11.3,9.95],[11.7,10.3],[12.1,10.7],[12.5,10.5],[12.95,10.3],[13.4,10.55],[13.8,10.7],[14.2,10.8],[14.6,11.0],[14.9,10.85],[15.2,10.9],[15.5,11.05],[15.85,10.95],[16.0,10.5],[16.1,8.26],[16.3,7.6],[16.7,7.9],[17.1,7.55],[17.3,7.0],[17.5,6.7],[17.9,7.4],[18.3,7.6],[18.7,7.5],[19.0,7.65],[19.4,7.45],[19.8,7.55],[20.0,7.1],[20.2,6.24],[20.4,7.2],[20.6,8.0],[20.9,7.0],[21.25,6.5],[21.6,6.9],[21.9,7.2],[22.1,6.8],[22.3,6.57],[22.5,7.4],[22.7,8.13],[23.0,8.8],[23.3,9.3],[23.5,8.9],[23.75,8.5],[24.0,8.35],[24.2,8.26],[24.6,8.3],[25.0,8.2],[25.3,8.55],[25.6,8.91],null,[27.7,10.5],[28.0,10.2],[28.3,10.0],[28.5,9.44],[28.8,9.7],null,[34.45,11.1],[34.8,10.2],[35.1,10.5],[35.4,10.7],[35.6,10.4],[35.9,11.1],null,[37.2,9.7],[37.6,9.8],[38.1,10.0],[38.5,9.6],[38.8,9.8],[39.1,10.0],[39.5,10.25],[39.8,9.9],[40.1,9.37],[40.4,9.25],[40.6,9.15],[41.0,9.7],[41.3,9.55],[41.6,9.48],[42.0,9.7],[42.4,9.5],[42.7,9.35],[43.0,9.5],[43.3,9.55],null,[45.3,10.94],[45.7,11.2],[46.0,11.6],[46.3,12.5],[64.3,12.5],[64.5,11.7],[64.6,11.5],[64.8,12.5],[87.7,12.5],[87.9,11.9],[88.1,11.82],[88.4,11.95],[88.6,12.4],[92.4,12.4],[92.6,11.85],[92.8,12.4],[94.4,12.4],[94.5,11.75],[94.7,11.9],[94.9,11.6],[95.1,12.0],[95.4,11.95],[95.6,11.7],[95.8,11.9],[96,11.43]];

const redTrace2012 = [[0,8.4],[0.3,8.3],[0.5,8.27],[0.7,8.45],[0.9,8.6],[1.2,8.5],[1.75,8.46],[2.16,8.44],[2.5,8.6],[2.8,8.72],[3.1,8.8],[3.4,8.89],[3.8,9.0],[4.2,9.15],[4.6,9.25],[5.1,9.32],[5.5,9.28],[5.9,9.25],[6.3,9.3],[6.7,9.32],[7.1,9.28],[7.55,9.25],[7.9,9.3],[8.2,9.51],[8.4,9.15],[8.6,9.0],[8.8,8.79],[9.0,8.46],[9.2,8.7],[9.4,8.3],[9.6,8.07],[10.0,7.81],[10.2,7.6],[10.46,7.34],[10.8,7.25],[11.3,7.15],[11.5,7.1],[11.7,6.95],[11.9,7.05],[12.1,7.15],[12.3,6.98],[12.7,7.02],[13.2,7.0],[13.8,7.0],[14.4,7.05],[15.0,7.08],[15.2,7.2],[15.4,7.34],[15.8,7.3],[16.2,7.4],[16.7,7.41],[17.1,7.5],[17.5,7.61],[18.0,7.6],[18.4,7.65],[18.8,7.67],[19.2,7.7],[19.6,7.74],[19.9,7.8],[20.2,7.87],[20.4,7.7],[20.6,7.54],[20.9,7.6],[21.25,7.6],[21.6,7.75],[21.9,7.94],[22.1,7.8],[22.3,7.61],[22.6,7.7],[22.9,7.67],[23.2,7.45],[23.5,7.22],[23.8,7.15],[24.2,7.08],[24.7,7.0],[25.2,6.95],[25.7,7.02],[26.2,7.0],[26.65,6.9],[27.1,6.88],[27.5,6.83],[27.9,6.75],[28.3,6.63],[28.7,6.55],[29.1,6.43],[29.5,6.35],[30.0,6.27],[30.3,6.32],[30.7,6.3],[31.0,6.25],[31.4,6.17],[31.7,6.2],[32.0,6.23],[32.5,6.35],[32.9,6.43],[33.3,6.48],[33.7,6.5],[34.0,6.42],[34.3,6.37],[34.6,6.4],[35.0,6.37],[35.3,6.45],[35.6,6.5],[35.9,6.44],[36.2,6.43],[36.5,6.4],[36.8,6.37],[37.2,6.33],[37.6,6.3],[38.3,6.3],[39.1,6.27],[39.8,6.3],[40.3,6.28],[40.8,6.3],[41.6,6.29],[42.4,6.27],[42.9,6.3],[43.3,6.33],[43.6,6.38],[43.9,6.4],[44.3,6.38],[44.9,6.33],[45.5,6.3],[46.2,6.23],[46.6,6.25],[47.0,6.23],[47.4,6.2],[47.8,6.13],[48.0,5.97],[48.5,5.96],[48.9,5.95],[49.3,5.98],[49.7,5.97],[50.3,5.95],[50.9,5.97],[51.3,6.07],[51.7,5.98],[52.2,5.95],[52.8,5.92],[53.4,5.86],[53.8,6.0],[54.2,5.9],[54.7,5.95],[55.3,6.0],[55.8,5.97],[56.2,5.95],[56.7,5.95],[57.3,5.98],[58.0,5.97],[58.4,6.17],[58.7,6.3],[59.0,6.4],[59.3,6.3],[59.65,6.2],[59.8,6.1],[60.1,5.8],[60.5,5.57],[60.7,5.65],[60.9,5.7],[61.1,5.55],[61.3,5.45],[61.5,5.55],[61.7,5.6],[61.9,5.5],[62.1,5.52],[62.3,5.58],[62.55,5.61],[62.8,5.5],[63.0,5.42],[63.2,5.38],[63.5,5.5],[63.8,5.6],[64.0,5.9],[64.2,5.7],[64.4,5.45],[64.7,5.75],[65.0,6.04],[65.3,6.0],[65.6,6.02],[66.0,5.95],[66.5,5.86],[66.8,5.75],[67.1,5.67],[67.3,5.8],[67.5,5.97],[67.8,6.1],[68.1,6.25],[68.4,6.36],[68.8,6.56],[69.2,6.4],[69.6,6.3],[69.8,6.1],[70.0,5.97],[70.2,6.2],[70.5,6.43],[70.8,6.38],[71.1,6.4],[71.3,6.5],[71.7,6.63],[71.9,6.55],[72.1,6.58],[72.3,6.65],[72.5,6.76],[72.7,6.95],[72.9,7.15],[73.1,7.1],[73.35,7.02],[73.6,6.85],[73.8,6.76],[74.1,6.72],[74.4,6.69],[74.6,6.78],[74.9,6.9],[75.3,7.05],[75.7,7.2],[76.0,7.28],[76.3,7.2],[76.7,7.08],[77.0,6.9],[77.4,6.65],[77.9,6.43],[78.3,6.4],[78.7,6.37],[79.2,6.33],[79.8,6.27],[80.1,6.5],[80.4,6.76],[80.7,6.72],[81.0,6.75],[81.3,6.9],[81.6,7.02],[82.0,6.97],[82.4,7.2],[82.9,7.54],[83.3,7.41],[83.5,7.5],[83.7,7.41],[83.9,7.6],[84.15,7.84],[84.5,7.9],[85.0,8.04],[85.5,8.02],[86.2,8.04],[86.8,8.1],[87.25,8.17],[87.5,8.1],[87.7,8.0],[87.9,7.85],[88.1,7.71],[88.3,7.9],[88.5,8.07],[88.9,8.23],[89.2,8.15],[89.5,8.1],[89.9,8.0],[90.2,7.9],[90.4,7.81],[90.6,7.58],[90.9,7.9],[91.2,8.2],[91.6,8.15],[92.0,8.1],[92.4,8.2],[92.9,8.27],[93.3,8.25],[93.7,8.3],[93.9,8.2],[94.1,8.0],[94.3,7.8],[94.5,7.61],[94.7,7.65],[94.9,7.6],[95.1,7.45],[95.35,7.28],[95.6,7.1],[95.8,7.02],[96,6.9]];

const magnetopause2012 = [[0,11.1],[0.08,11.29],[0.2,11.35],[0.4,11.0],[0.6,11.1],[0.9,10.76],[1.1,9.84],[1.4,9.8],[1.75,9.7],[2.1,9.6],[2.4,9.5],[2.5,9.62],[2.8,9.45],[3.2,9.42],null,[3.6,9.87],[3.8,10.05],[4.0,10.17],[4.4,10.1],[4.6,9.9],[4.86,9.7],[5.3,9.55],[5.6,9.5],[5.9,9.45],[6.3,9.5],[6.7,9.56],[7.0,9.5],[7.35,9.67],[7.7,9.6],[7.97,9.05],[8.3,9.2],[8.6,9.3],[8.8,10.7],[9.0,10.9],[9.2,10.55],[9.4,10.3],[9.6,10.0],[10.0,10.3],[10.25,10.8],[10.6,10.85],[10.9,10.99],[11.3,10.95],[11.5,11.74],[11.7,11.5],[11.9,11.6],[12.2,11.8],[12.5,12.0],[12.8,12.5],[21.8,12.5],[21.9,11.38],[22.3,11.5],[22.6,11.45],[22.9,11.6],[23.1,11.9],[23.3,11.6],[23.6,11.65],[23.95,11.74],[24.4,11.55],[24.8,11.6],[25.2,11.65],[25.4,11.45],[25.7,11.35],[26.0,11.15],[26.3,11.1],[26.65,11.0],[27.0,10.7],[27.3,10.9],[27.5,11.1],[27.7,10.55],[27.9,9.87],[28.2,10.1],[28.5,10.25],[28.8,10.15],[29.1,10.1],[29.5,10.2],[30.0,10.3],[30.4,10.1],[30.7,9.38],[31.0,10.4],[31.3,10.35],[31.6,10.46],[32.0,10.35],[32.3,10.25],[32.7,10.82],[33.1,10.6],[33.4,10.7],[33.7,10.6],[34.0,10.45],[34.3,10.17],[34.7,10.3],[35.0,10.25],[35.3,10.4],[35.6,10.35],[36.0,10.0],[36.2,9.71],[36.6,9.8],[37.0,9.78],[37.4,9.9],[37.9,10.1],[38.3,9.85],[38.7,9.75],[39.1,9.64],[39.4,9.75],[39.7,9.7],[40.0,9.55],[40.35,9.45],[40.8,9.6],[41.2,9.78],[41.6,9.65],[42.0,9.6],[42.3,9.7],[42.6,9.85],[43.0,9.6],[43.3,9.5],[43.6,9.6],[43.9,9.62],[44.3,9.28],[44.6,9.45],[44.9,9.57],[45.3,9.55],[45.7,9.5],[46.0,9.4],[46.4,9.28],[46.7,9.4],[47.0,9.45],[47.3,9.55],[47.6,9.5],[48.0,9.52],[48.4,9.58],[48.9,9.5],[49.3,9.42],[49.7,9.45],[50.1,9.38],[50.5,9.32],[51.0,9.36],[51.6,9.3],[52.2,9.32],[52.6,9.38],[53.0,9.45],[53.3,9.6],[53.6,9.9],[53.8,9.6],[54.0,9.52],[54.4,9.6],[54.7,9.78],[55.1,9.85],[55.3,9.7],[55.5,9.45],[55.8,9.6],[56.1,9.71],[56.5,9.6],[56.9,9.52],[57.3,9.55],[57.8,9.9],[58.2,10.43],[58.4,10.4],[58.6,10.3],[59.0,10.15],null,[59.65,8.99],[59.8,9.18],null,[60.3,6.17],[60.5,8.37],[60.7,8.3],[60.9,6.76],[61.1,8.2],[61.3,6.76],[61.5,8.07],[61.7,6.76],[61.9,7.2],[62.1,7.94],[62.3,7.6],[62.55,6.76],[62.8,8.2],[63.0,7.9],[63.2,7.68],[63.4,8.1],[63.6,8.46],[64.0,8.53],[64.2,8.07],[64.4,6.63],[64.6,8.07],[64.8,8.3],[65.0,8.56],[65.2,8.4],[65.45,8.6],[65.6,8.07],null,[66.3,7.87],[66.5,8.0],[66.7,8.2],[66.9,7.74],[67.1,8.46],[67.3,8.99],[67.5,8.72],null,[69.0,8.76],[69.2,8.5],[69.4,8.26],[69.6,7.22],[69.8,7.6],[70.0,7.87],[70.2,8.86],[70.4,8.75],[70.6,8.92],[70.9,9.1],[71.1,9.45],[71.3,9.1],[71.5,8.99],[71.7,8.8],[71.9,8.6],[72.1,8.75],[72.3,8.79],[72.5,8.7],[72.7,8.75],[72.9,8.4],[73.1,8.6],[73.35,8.72],[73.6,8.55],[73.8,8.46],null,[74.2,8.86],[74.4,9.0],[74.6,9.18],[74.8,9.3],[75.1,9.68],[75.4,9.25],[75.7,9.3],[76.0,9.35],[76.25,9.38],[76.5,9.2],[76.7,8.92],[76.9,9.2],[77.1,9.38],[77.3,9.3],[77.5,9.25],[77.7,9.4],[77.9,9.52],[78.0,9.0],null,[79.8,9.38],[80.0,9.5],[80.2,9.8],[80.4,10.17],[80.6,9.6],[80.8,9.18],[81.0,9.4],[81.2,9.52],[81.4,9.45],[81.6,9.38],[81.9,9.3],[82.3,9.25],[82.5,9.45],[82.7,9.38],[82.9,9.3],[83.1,9.05],[83.3,9.3],[83.5,9.64],[83.7,9.55],[83.9,9.7],[84.15,10.5],null,[86.96,10.14],[87.1,10.3],[87.25,10.37],[87.5,10.0],[87.7,9.71],[87.9,9.5],[88.1,9.32],[88.3,9.7],[88.5,10.1],[88.7,10.2],[88.9,10.1],[89.1,10.0],[89.3,10.1],[89.5,10.17],[89.7,10.5],[89.9,10.96],[90.1,10.6],[90.4,10.3],[90.6,10.5],[90.8,10.63],[91.0,10.5],[91.2,10.55],[91.5,10.4],[91.8,10.3],[92.0,10.1],[92.2,10.4],[92.4,10.76],[92.6,10.6],[92.85,10.55],[93.0,10.6],[93.2,10.5],[93.4,10.55],[93.7,10.7],[93.9,10.17],[94.1,10.6],[94.3,11.09],[94.5,11.4],[94.7,11.74],[94.9,10.96],[95.1,11.0],[95.35,11.0],[95.55,10.43],[95.8,10.04],[96,9.38]];

// Colour map (log10 flux, normalised 0..1)
const cmapStops = [0,0.06,0.13,0.25,0.30,0.345,0.40,0.45,0.50,0.55,0.60,0.655,0.70,0.75,0.80,0.87,0.93,1];
const cmapColors = ["#1b1e5a","#1f2f80","#2a3e95","#34589f","#3a74b8","#1fc0ef","#5cc4d2","#6fc3ae","#7fc28e","#9bc55a","#c3d637","#f9e600","#fbbe12","#f6982a","#f26b28","#ec1c24","#c02029","#6b1313"];

const panels = [
  { title: "September 2014", start: Date.UTC(2014, 8, 12), top: 34, passes: passes2014, spots: spots2014,
    red: redTrace2014, green: magnetopause2014, logRange: [-0.045, 2.81], cbLabelX: 1019 },
  { title: "September 2012", start: Date.UTC(2012, 8, 1), top: 630, passes: passes2012, spots: spots2012,
    red: redTrace2012, green: magnetopause2012, logRange: [-2.82, 3.83], cbLabelX: 1031 }
];

// ---------------------------------------------------------------------------
// Layout & styles
// ---------------------------------------------------------------------------
const plotLeft = 76, plotRight = 847, plotHeight = 511;
const cbLeft = 931, cbWidth = 21;
const ink = "#262626", green = "#00803d", redLine = "#ec1c24", gridCol = "#c4c4c4";
const FONT = 20;

const svg = d3.select("#chart");
const defs = svg.append("defs");

const cmapScale = d3.scaleLinear().domain(cmapStops).range(cmapColors).interpolate(d3.interpolateRgb).clamp(true);

panels.forEach((p, pi) => {
  const top = p.top, bottom = top + plotHeight;
  const hoursToDate = h => new Date(p.start + h * 3600e3);
  const x = d3.scaleUtc().domain([hoursToDate(0), hoursToDate(96)]).range([plotLeft, plotRight]);
  const y = d3.scaleLinear().domain([2, 12]).range([bottom, top]);
  const color = d3.scaleSequential(t => cmapScale(t)).domain(p.logRange).clamp(true);

  const g = svg.append("g");

  // clip to axes area
  const clipId = "clip" + pi;
  defs.append("clipPath").attr("id", clipId).append("rect")
    .attr("x", plotLeft).attr("y", top).attr("width", plotRight - plotLeft).attr("height", plotHeight);

  // grid
  const tickDates = timeTicksHours.map(hoursToDate);
  g.append("g").selectAll("line").data(tickDates).join("line")
    .attr("x1", d => x(d)).attr("x2", d => x(d)).attr("y1", top).attr("y2", bottom)
    .attr("stroke", gridCol).attr("stroke-width", 1.5);
  g.append("g").selectAll("line").data(lstarTicks).join("line")
    .attr("x1", plotLeft).attr("x2", plotRight).attr("y1", d => y(d)).attr("y2", d => y(d))
    .attr("stroke", gridCol).attr("stroke-width", 1.5);

  // scatter points (higher flux drawn on top)
  const pts = [];
  p.spots.forEach(([t, L, f]) => pts.push({ t, L: L / 100, f: f / 10 }));
  p.passes.forEach(([t0, Ls, Fs]) => Ls.forEach((L, i) => pts.push({ t: t0 + i * SAMPLE_STEP, L: L / 100, f: Fs[i] / 10 })));
  pts.sort((a, b) => a.f - b.f);
  g.append("g").attr("clip-path", `url(#${clipId})`)
    .selectAll("circle").data(pts).join("circle")
    .attr("cx", d => x(hoursToDate(d.t))).attr("cy", d => y(d.L)).attr("r", 2.2)
    .attr("fill", d => color(d.f));

  // lines
  const line = d3.line().defined(d => d !== null)
    .x(d => x(hoursToDate(d[0]))).y(d => y(d[1]));
  g.append("path").datum(p.red).attr("clip-path", `url(#${clipId})`)
    .attr("d", line).attr("fill", "none").attr("stroke", redLine).attr("stroke-width", 2.2)
    .attr("stroke-linejoin", "round");
  g.append("path").datum(p.green).attr("clip-path", `url(#${clipId})`)
    .attr("d", line).attr("fill", "none").attr("stroke", green).attr("stroke-width", 2.5)
    .attr("stroke-linejoin", "round");

  // axes
  const fmtTime = d3.utcFormat("%H:%M"), fmtDay = d3.utcFormat("%b %d");
  const xAxis = g.append("g").attr("transform", `translate(0,${bottom})`)
    .call(d3.axisBottom(x).tickValues(tickDates).tickSize(6).tickPadding(5).tickFormat(fmtTime));
  xAxis.select(".domain").remove();
  xAxis.attr("font-size", FONT).attr("font-family", "DejaVu Sans").attr("color", ink);
  xAxis.selectAll(".tick line").attr("stroke-width", 1.5);
  xAxis.selectAll(".tick text").each(function (d) {
    const t = d3.select(this).attr("dy", null).attr("fill", ink);
    t.text(null);
    t.append("tspan").attr("x", 0).attr("dy", "0.71em").text(fmtTime(d));
    t.append("tspan").attr("x", 0).attr("dy", "1.2em").text(fmtDay(d));
  });

  const yAxis = g.append("g").attr("transform", `translate(${plotLeft},0)`)
    .call(d3.axisLeft(y).tickValues(lstarTicks).tickSize(6).tickPadding(5).tickFormat(d3.format("d")));
  yAxis.select(".domain").remove();
  yAxis.attr("font-size", FONT).attr("font-family", "DejaVu Sans").attr("color", ink);
  yAxis.selectAll(".tick line").attr("stroke-width", 1.5);

  const yAxisR = g.append("g").attr("transform", `translate(${plotRight},0)`)
    .call(d3.axisRight(y).tickValues(lstarTicks).tickSize(6).tickPadding(4).tickFormat(d3.format("d")));
  yAxisR.select(".domain").remove();
  yAxisR.attr("font-size", FONT).attr("font-family", "DejaVu Sans").attr("color", green);
  yAxisR.selectAll(".tick line").attr("stroke-width", 1.5);

  // frame
  g.append("line").attr("x1", plotLeft).attr("x2", plotRight).attr("y1", top).attr("y2", top).attr("stroke", ink).attr("stroke-width", 1.6);
  g.append("line").attr("x1", plotLeft).attr("x2", plotRight).attr("y1", bottom).attr("y2", bottom).attr("stroke", ink).attr("stroke-width", 1.6);
  g.append("line").attr("x1", plotLeft).attr("x2", plotLeft).attr("y1", top).attr("y2", bottom).attr("stroke", ink).attr("stroke-width", 1.6);
  g.append("line").attr("x1", plotRight).attr("x2", plotRight).attr("y1", top).attr("y2", bottom).attr("stroke", green).attr("stroke-width", 1.8);

  // title
  g.append("text").attr("x", (plotLeft + plotRight) / 2).attr("y", top - 8).attr("text-anchor", "middle")
    .attr("font-size", 23.5).attr("fill", ink).text(p.title);

  // left label L*
  const lLab = g.append("text").attr("transform", `translate(41,${top + plotHeight / 2}) rotate(-90)`)
    .attr("text-anchor", "middle").attr("font-size", FONT).attr("fill", ink);
  lLab.append("tspan").text("L");
  lLab.append("tspan").attr("font-size", 14).attr("dy", -8).text("*");

  // right label
  const rLab = g.append("text").attr("transform", `translate(905,${top + plotHeight / 2 - 8}) rotate(-90)`)
    .attr("text-anchor", "middle").attr("font-size", FONT).attr("fill", green);
  rLab.append("tspan").text("Shue et.al. [1998] magnetopause, ");
  rLab.append("tspan").attr("font-style", "italic").text("R");
  rLab.append("tspan").attr("font-style", "italic").attr("font-size", 14).attr("dy", 4).text("E");

  // colour bar
  const gradId = "grad" + pi;
  const grad = defs.append("linearGradient").attr("id", gradId)
    .attr("x1", 0).attr("y1", 1).attr("x2", 0).attr("y2", 0);
  d3.range(0, 1.0001, 0.01).forEach(s => grad.append("stop").attr("offset", s).attr("stop-color", cmapScale(s)));
  g.append("rect").attr("x", cbLeft).attr("y", top - 0.5).attr("width", cbWidth).attr("height", plotHeight + 0.5)
    .attr("fill", `url(#${gradId})`).attr("stroke", "#555").attr("stroke-width", 1);

  const cb = d3.scaleLog().domain([Math.pow(10, p.logRange[0]), Math.pow(10, p.logRange[1])]).range([bottom, top - 0.5]);
  const cbTicks = cb.ticks();
  const isMajor = v => Math.abs(Math.log10(v) - Math.round(Math.log10(v))) < 1e-6;
  const cbx = cbLeft + cbWidth;
  g.append("g").selectAll("line").data(cbTicks).join("line")
    .attr("x1", cbx).attr("x2", d => cbx + (isMajor(d) ? 6 : 3.5))
    .attr("y1", d => cb(d)).attr("y2", d => cb(d)).attr("stroke", ink).attr("stroke-width", 1.2);
  const lab = g.append("g").selectAll("text").data(cbTicks.filter(isMajor)).join("text")
    .attr("x", cbx + 9).attr("y", d => cb(d) + 8).attr("font-size", FONT).attr("fill", ink);
  lab.append("tspan").text("10");
  lab.append("tspan").attr("font-size", 14).attr("dy", -9)
    .text(d => { const e = Math.round(Math.log10(d)); return e < 0 ? "\u2212" + (-e) : String(e); });

  const cLab = g.append("text").attr("transform", `translate(${p.cbLabelX},${top + plotHeight / 2}) rotate(-90)`)
    .attr("text-anchor", "middle").attr("font-size", FONT).attr("fill", ink);
  cLab.append("tspan").text("3 MeV flux, cm");
  cLab.append("tspan").attr("font-size", 14).attr("dy", -8).text("\u22122");
  cLab.append("tspan").attr("dy", 8).text("s");
  cLab.append("tspan").attr("font-size", 14).attr("dy", -8).text("\u22121");
  cLab.append("tspan").attr("dy", 8).text("sr");
  cLab.append("tspan").attr("font-size", 14).attr("dy", -8).text("\u22121");
  cLab.append("tspan").attr("dy", 8).text("MeV");
  cLab.append("tspan").attr("font-size", 14).attr("dy", -8).text("\u22121");
});
</script>
</body>
</html>
